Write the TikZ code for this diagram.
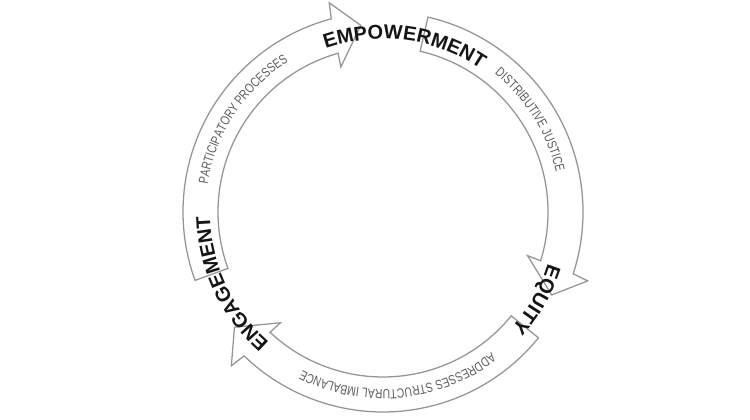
\documentclass[tikz,border=0pt]{standalone}
\usepackage{fontspec}
\usetikzlibrary{decorations.text}
\newfontfamily\lab{Liberation Sans}
\newfontfamily\smalllab{Liberation Sans}[FakeStretch=0.78]
\definecolor{outl}{HTML}{959595}
\definecolor{stxt}{HTML}{5E5E5E}
\definecolor{btxt}{HTML}{151515}
\tikzset{
  band/.style={draw=outl, line width=0.95pt, fill=white, line join=miter},
  biglabel/.style={decorate, decoration={text along path, text align=center,
      text={|\lab\bfseries\fontsize{15}{15}\selectfont\color{btxt}|#1}}},
  smalllabel/.style={decorate, decoration={text along path, text align=center,
      text={|\smalllab\fontsize{10}{10}\selectfont\color{stxt}|#1}}},
}
\newcommand\bandarrow[1]{%
  \draw[band] (#1:165) arc[start angle=#1, end angle=#1-94.2, radius=165]
    -- (#1-93.8:151) -- (#1-103.2:188) -- (#1-95.6:216) -- (#1-95.0:200)
    arc[start angle=#1-95.0, end angle=#1, radius=200] -- cycle;
}
\newcommand\textarc[4]{% style, centre angle, radius, text
  \path[#1={#4}] (#2+45:#3) arc[start angle=#2+45, end angle=#2-45, radius=#3];
}
\begin{document}
\begin{tikzpicture}[x=0.75pt, y=0.75pt]
  \useasboundingbox (0,0) rectangle (750,420);
  \begin{scope}[shift={(383,208)}]
    \bandarrow{200}
    \bandarrow{77}
    \bandarrow{321}
    \textarc{smalllabel}{146.7}{177.5}{PARTICIPATORY PROCESSES}
    \textarc{smalllabel}{32}{177.5}{DISTRIBUTIVE JUSTICE}
    \textarc{smalllabel}{275.3}{177.5}{ADDRESSES STRUCTURAL IMBALANCE}
    \textarc{biglabel}{82.5}{173}{EMPOWERMENT}
    \textarc{biglabel}{-29.75}{173}{EQUITY}
    \textarc{biglabel}{205.2}{173}{ENGAGEMENT}
  \end{scope}
\end{tikzpicture}
\end{document}
